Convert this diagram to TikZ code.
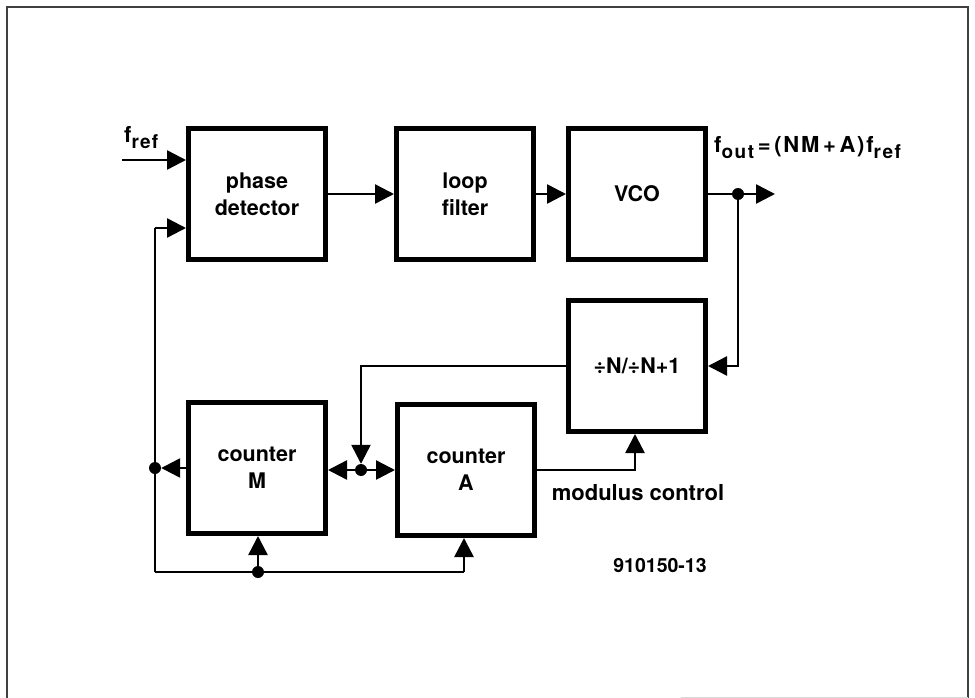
\documentclass[tikz,border=0pt]{standalone}
\usepackage{fontspec}
\setmainfont{TeX Gyre Heros}
\usetikzlibrary{arrows.meta}
\newcommand{\sbs}[1]{\raisebox{-5.5pt}{\fontsize{19}{19}\selectfont #1}}
\begin{document}
\begin{tikzpicture}[x=1pt,y=-1pt,
  blk/.style={draw, line width=5pt, minimum width=137pt, minimum height=131pt,
    align=center, inner sep=0pt, font=\bfseries\fontsize{21.5}{27}\selectfont},
  conn/.style={line width=2.5pt, -{Triangle[length=19pt,width=19pt]}},
  wire/.style={line width=2.5pt},
  dot/.style={circle, fill, inner sep=0pt, minimum size=12pt},
  lbl/.style={font=\bfseries\fontsize{22}{25}\selectfont, inner sep=0pt}]
\useasboundingbox (0,0) rectangle (975,698);
% frame
\draw[line width=2.5pt, black!75] (7,698) -- (7,7) -- (968,7) -- (968,698);
\draw[line width=1pt, black!15] (681,697) -- (968,697);

% blocks
\node[blk] (pd) at (257,194) {phase\\detector};
\node[blk] (lf) at (465,194) {loop\\filter};
\node[blk] (vco) at (637,194) {VCO};
\node[blk] (div) at (637,366) {÷N/÷N+1};
\node[blk] (cm) at (257,468) {counter\\M};
\node[blk] (ca) at (466,470) {counter\\A};

% junctions and free ends
\coordinate (fin) at (122,160);
\node[dot] (d1) at (738,194) {};
\coordinate (fo) at (775,194);
\node[dot] (dl) at (155,468) {};
\node[dot] (dm) at (361,470) {};
\node[dot] (db) at (258,572) {};
\coordinate (bl) at (155,572);
\coordinate (br) at (464,572);
\coordinate (fb) at (155,228);
\coordinate (mc) at (635,470);

% connectors
\draw[conn] (fin) -- (fin -| pd.west);
\draw[conn] (pd) -- (lf);
\draw[conn] (lf) -- (vco);
\draw[wire] (vco.east) -- (d1);
\draw[conn] (d1) -- (fo);
\draw[conn] (d1) |- (div.east);
\draw[conn] (div.west) -| (dm);
\draw[conn] (dm) -- (dm -| cm.east);
\draw[conn] (dm) -- (dm -| ca.west);
\draw[conn] (cm.west |- dl) -- (dl);
\draw[wire] (bl) -- (fb);
\draw[conn] (fb) -- (fb -| pd.west);
\draw[wire] (bl) -- (br);
\draw[conn] (br) -- (br |- ca.south);
\draw[conn] (db) -- (db |- cm.south);
\draw[conn] (ca.east |- mc) -- (mc) -- (mc |- div.south);

% labels
\node[lbl, anchor=base west] (lref) at (124,143) {\addfontfeatures{LetterSpace=6}f\sbs{ref}};
\node[lbl, anchor=base west] (lout) at (714,153) {\addfontfeatures{LetterSpace=8}f\sbs{out}\,=\,(NM\,+\,A)f\sbs{ref}};
\node[lbl, anchor=base] (lmod) at (638,500) {modulus control};
\node[lbl, anchor=base, font=\bfseries\fontsize{19.5}{22}\selectfont] (lnum) at (660,572) {910150-13};
\end{tikzpicture}
\end{document}
